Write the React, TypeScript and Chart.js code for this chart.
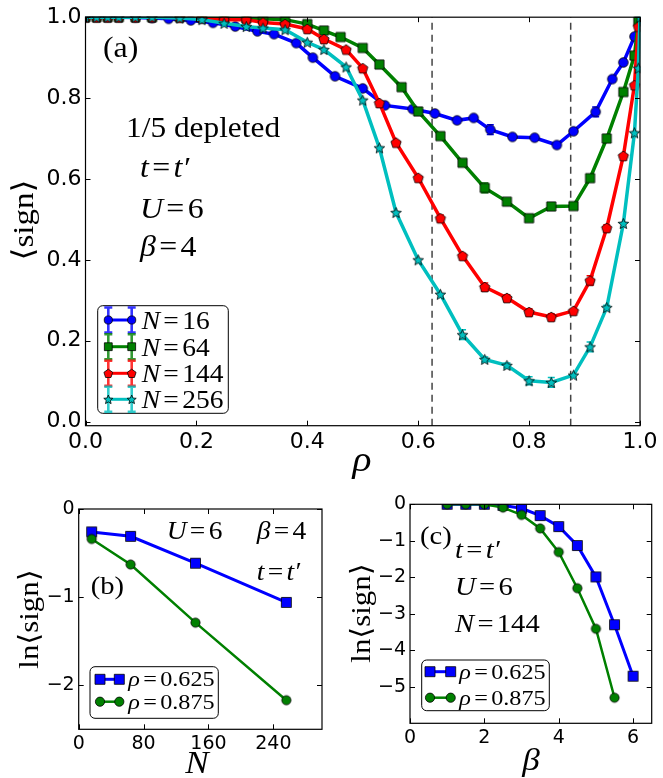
import React, { useEffect, useRef } from "react";
import { Chart, registerables } from "chart.js";

Chart.register(...registerables);

// ---- panel (a): <sign> vs rho, 1/5 depleted, t=t', U=6, beta=4
const rho16 = [0, 0.02, 0.04, 0.06, 0.09, 0.12, 0.15, 0.19, 0.23, 0.27, 0.31, 0.34, 0.38, 0.41, 0.45, 0.5, 0.54, 0.59, 0.63, 0.67, 0.7, 0.73, 0.77, 0.81, 0.85, 0.88, 0.92, 0.95, 0.97, 0.99, 1.0];
const sign16 = [1, 1, 1, 1, 0.999, 0.998, 0.996, 0.992, 0.986, 0.977, 0.965, 0.958, 0.936, 0.9, 0.854, 0.824, 0.782, 0.773, 0.762, 0.745, 0.751, 0.722, 0.704, 0.702, 0.684, 0.718, 0.766, 0.847, 0.888, 0.952, 0.99];
const err16 = [0, 0, 0, 0, 0, 0, 0, 0, 0, 0, 0, 0, 0, 0, 0, 0, 0, 0.006, 0, 0.006, 0, 0.012, 0.005, 0, 0.006, 0, 0.012, 0.006, 0, 0, 0];

const rho64 = [0, 0.02, 0.04, 0.06, 0.09, 0.12, 0.17, 0.21, 0.25, 0.29, 0.32, 0.36, 0.4, 0.43, 0.46, 0.5, 0.53, 0.57, 0.6, 0.64, 0.68, 0.72, 0.76, 0.8, 0.84, 0.88, 0.91, 0.94, 0.97, 0.99, 0.997];
const sign64 = [1, 1, 1, 1, 1, 1, 1, 0.999, 0.998, 0.997, 0.996, 0.994, 0.983, 0.967, 0.951, 0.924, 0.883, 0.827, 0.767, 0.706, 0.64, 0.578, 0.544, 0.503, 0.532, 0.533, 0.602, 0.7, 0.815, 0.905, 0.99];
const err64 = [0, 0, 0, 0, 0, 0, 0, 0, 0, 0, 0, 0, 0, 0, 0, 0, 0, 0, 0, 0, 0.005, 0.012, 0.006, 0, 0, 0.006, 0, 0, 0, 0, 0];

const rho144 = [0, 0.02, 0.04, 0.06, 0.09, 0.12, 0.17, 0.21, 0.25, 0.29, 0.32, 0.36, 0.4, 0.43, 0.47, 0.5, 0.53, 0.56, 0.6, 0.64, 0.68, 0.72, 0.76, 0.8, 0.84, 0.88, 0.91, 0.94, 0.97, 0.99, 0.997];
const sign144 = [1, 1, 1, 1, 1, 1, 0.999, 0.997, 0.994, 0.994, 0.987, 0.983, 0.971, 0.946, 0.92, 0.874, 0.788, 0.69, 0.603, 0.503, 0.41, 0.333, 0.306, 0.271, 0.259, 0.274, 0.349, 0.479, 0.657, 0.832, 0.977];
const err144 = [0, 0, 0, 0, 0, 0, 0, 0, 0, 0, 0, 0, 0, 0, 0, 0, 0, 0, 0, 0.008, 0.006, 0.01, 0.008, 0.008, 0.008, 0, 0.012, 0.008, 0, 0, 0];

const rho256 = [0, 0.02, 0.04, 0.06, 0.09, 0.12, 0.17, 0.21, 0.25, 0.29, 0.32, 0.36, 0.4, 0.43, 0.47, 0.5, 0.53, 0.56, 0.6, 0.64, 0.68, 0.72, 0.76, 0.8, 0.84, 0.88, 0.91, 0.94, 0.97, 0.99, 0.997, 1.0];
const sign256 = [1, 1, 1, 1, 1, 1, 0.998, 0.994, 0.985, 0.977, 0.973, 0.969, 0.938, 0.92, 0.877, 0.795, 0.677, 0.517, 0.4, 0.315, 0.215, 0.154, 0.139, 0.101, 0.097, 0.115, 0.185, 0.282, 0.49, 0.714, 0.874, 1.0];
const err256 = [0, 0, 0, 0, 0, 0, 0, 0, 0, 0, 0, 0, 0, 0, 0, 0, 0, 0, 0, 0, 0.012, 0.006, 0.006, 0.01, 0.012, 0, 0.012, 0.006, 0, 0, 0, 0];

const rhoTicks = [0, 0.2, 0.4, 0.6, 0.8, 1.0];
const signTicks = [0, 0.2, 0.4, 0.6, 0.8, 1.0];
const markedRho = [0.625, 0.875];

// ---- panel (b): ln<sign> vs N at beta=4
const sizesN = [16, 64, 144, 256];
const lnSign625N = [-0.26, -0.31, -0.615, -1.06];
const lnSign875N = [-0.34, -0.63, -1.29, -2.17];
const nTicks = [0, 80, 160, 240];
const lnTicksB = [-2, -1, 0];

// ---- panel (c): ln<sign> vs beta at N=144
const beta625 = [1, 1.5, 2, 2.5, 3, 3.5, 4, 4.5, 5, 5.5, 6];
const lnSign625B = [0, 0, 0, -0.03, -0.11, -0.31, -0.61, -1.13, -1.99, -3.3, -4.71];
const beta875 = [1, 1.5, 2, 2.5, 3, 3.5, 4, 4.5, 5, 5.5];
const lnSign875B = [0, 0, 0, -0.09, -0.29, -0.66, -1.31, -2.3, -3.41, -5.3];
const betaTicks = [0, 2, 4, 6];
const lnTicksC = [-5, -4, -3, -2, -1, 0];

const BLUE = "#0000ff";
const GREEN = "#008000";
const RED = "#ff0000";
const CYAN = "#00bfbf";
const SERIF = "'Liberation Serif', 'DejaVu Serif', serif";
const SANS = "'DejaVu Sans', 'Liberation Sans', sans-serif";
const STRETCH = 1.1;

type Tok = { t: string; it?: boolean; g?: number };
type Kind = "circle" | "square" | "pentagon" | "star";

const eq = (lhs: string, rhs: string, rhsItalic = false): Tok[] => [
  { t: lhs, it: true },
  { t: "", g: 3 },
  { t: "=" },
  { t: "", g: 3 },
  { t: rhs, it: rhsItalic },
];

function drawRich(ctx: CanvasRenderingContext2D, toks: Tok[], x: number, y: number, size: number, align = "left") {
  ctx.save();
  ctx.translate(x, y);
  ctx.scale(STRETCH, 1);
  ctx.textBaseline = "alphabetic";
  ctx.textAlign = "left";
  ctx.fillStyle = "#000";
  const fonts = toks.map((k) => `${k.it ? "italic " : ""}${size}px ${SERIF}`);
  const widths = toks.map((k, i) => {
    ctx.font = fonts[i];
    return ctx.measureText(k.t).width + (k.g || 0);
  });
  const total = widths.reduce((a, b) => a + b, 0);
  let cx = align === "center" ? -total / 2 : 0;
  toks.forEach((k, i) => {
    ctx.font = fonts[i];
    ctx.fillText(k.t, cx, 0);
    cx += widths[i];
  });
  ctx.restore();
}

function drawRotated(ctx: CanvasRenderingContext2D, toks: Tok[], x: number, y: number, size: number) {
  ctx.save();
  ctx.translate(x, y);
  ctx.rotate(-Math.PI / 2);
  drawRich(ctx, toks, 0, 0, size, "center");
  ctx.restore();
}

function markerPath(ctx: CanvasRenderingContext2D, kind: Kind, cx: number, cy: number, r: number) {
  ctx.beginPath();
  if (kind === "circle") {
    ctx.arc(cx, cy, r, 0, Math.PI * 2);
  } else if (kind === "square") {
    ctx.rect(cx - r, cy - r, 2 * r, 2 * r);
  } else if (kind === "pentagon") {
    for (let i = 0; i < 5; i++) {
      const a = -Math.PI / 2 + (i * 2 * Math.PI) / 5;
      const px = cx + r * Math.cos(a);
      const py = cy + r * Math.sin(a) + r * 0.1;
      if (i === 0) ctx.moveTo(px, py);
      else ctx.lineTo(px, py);
    }
  } else {
    for (let i = 0; i < 10; i++) {
      const a = -Math.PI / 2 + (i * Math.PI) / 5;
      const rr = i % 2 ? r * 0.45 : r;
      const px = cx + rr * Math.cos(a);
      const py = cy + rr * Math.sin(a) + r * 0.1;
      if (i === 0) ctx.moveTo(px, py);
      else ctx.lineTo(px, py);
    }
  }
  ctx.closePath();
}

function drawMarker(ctx: CanvasRenderingContext2D, kind: Kind, cx: number, cy: number, r: number, fill: string) {
  markerPath(ctx, kind, cx, cy, r);
  ctx.fillStyle = fill;
  ctx.fill();
  ctx.lineWidth = 0.8;
  ctx.strokeStyle = "#000";
  ctx.stroke();
}

function markerImage(kind: Kind, r: number, fill: string) {
  const c = document.createElement("canvas");
  const s = Math.ceil(r * 2 + 3);
  c.width = s;
  c.height = s;
  drawMarker(c.getContext("2d")!, kind, s / 2, s / 2, r, fill);
  return c;
}

type Area = { left: number; top: number; right: number; bottom: number };

function panelPlugin(xTicks: number[], yTicks: number[], extras: (ctx: CanvasRenderingContext2D, chart: any) => void, before?: (ctx: CanvasRenderingContext2D, chart: any) => void) {
  return {
    id: "panel",
    beforeDatasetsDraw(chart: any) {
      if (!before) return;
      const ctx = chart.ctx;
      ctx.save();
      before(ctx, chart);
      ctx.restore();
    },
    beforeDatasetDraw(chart: any, args: any) {
      const ds = chart.data.datasets[args.index];
      if (!ds.errs) return;
      const ctx = chart.ctx;
      const xs = chart.scales.x;
      const ys = chart.scales.y;
      ctx.save();
      ctx.strokeStyle = ds.borderColor;
      ctx.lineWidth = 1.5;
      ds.data.forEach((p: any, i: number) => {
        const e = ds.errs[i];
        if (!e) return;
        const px = xs.getPixelForValue(p.x);
        const y1 = ys.getPixelForValue(p.y - e);
        const y2 = ys.getPixelForValue(p.y + e);
        ctx.beginPath();
        ctx.moveTo(px, y1);
        ctx.lineTo(px, y2);
        ctx.moveTo(px - 3.5, y1);
        ctx.lineTo(px + 3.5, y1);
        ctx.moveTo(px - 3.5, y2);
        ctx.lineTo(px + 3.5, y2);
        ctx.stroke();
      });
      ctx.restore();
    },
    afterDatasetsDraw(chart: any) {
      const ctx = chart.ctx;
      const { left, top, right, bottom } = chart.chartArea;
      const xs = chart.scales.x;
      const ys = chart.scales.y;
      ctx.save();
      ctx.strokeStyle = "#000";
      ctx.lineWidth = 1;
      ctx.beginPath();
      xTicks.forEach((v) => {
        const px = Math.round(xs.getPixelForValue(v)) + 0.5;
        ctx.moveTo(px, bottom);
        ctx.lineTo(px, bottom - 5);
        ctx.moveTo(px, top);
        ctx.lineTo(px, top + 5);
      });
      yTicks.forEach((v) => {
        const py = Math.round(ys.getPixelForValue(v)) + 0.5;
        ctx.moveTo(left, py);
        ctx.lineTo(left + 5, py);
        ctx.moveTo(right, py);
        ctx.lineTo(right - 5, py);
      });
      ctx.stroke();
      ctx.lineWidth = 1.2;
      ctx.strokeRect(left, top, right - left, bottom - top);
      ctx.restore();
    },
    afterDraw(chart: any) {
      const ctx = chart.ctx;
      ctx.save();
      extras(ctx, chart);
      ctx.restore();
    },
  };
}

function legendBox(ctx: CanvasRenderingContext2D, x: number, y: number, w: number, h: number) {
  ctx.beginPath();
  ctx.roundRect(x, y, w, h, 5);
  ctx.fillStyle = "#fff";
  ctx.fill();
  ctx.lineWidth = 1;
  ctx.strokeStyle = "#000";
  ctx.stroke();
}

const fmtNum = (v: number) => (v < 0 ? "\u2212" + Math.abs(v) : String(v));

function makeChart(
  canvas: HTMLCanvasElement,
  w: number,
  h: number,
  area: Area,
  datasets: any[],
  x: { min: number; max: number; ticks: number[]; fmt: (v: number) => string },
  y: { min: number; max: number; ticks: number[]; fmt: (v: number) => string; pad: number },
  tickSize: number,
  plugin: any
) {
  return new Chart(canvas, {
    type: "scatter",
    data: { datasets },
    options: {
      animation: false,
      responsive: false,
      events: [],
      layout: { padding: { left: 0, top: area.top, right: w - area.right, bottom: 0 } },
      plugins: { legend: { display: false }, tooltip: { enabled: false } },
      scales: {
        x: {
          type: "linear",
          min: x.min,
          max: x.max,
          grid: { display: false, drawTicks: false },
          border: { display: false },
          afterBuildTicks: (s: any) => {
            s.ticks = x.ticks.map((v) => ({ value: v }));
          },
          afterFit: (s: any) => {
            s.height = h - area.bottom;
          },
          ticks: {
            color: "#000",
            padding: 3,
            maxRotation: 0,
            font: { family: SANS, size: tickSize },
            callback: (v: any) => x.fmt(Number(v)),
          },
        },
        y: {
          type: "linear",
          min: y.min,
          max: y.max,
          grid: { display: false, drawTicks: false },
          border: { display: false },
          afterBuildTicks: (s: any) => {
            s.ticks = y.ticks.map((v) => ({ value: v }));
          },
          afterFit: (s: any) => {
            s.width = area.left;
          },
          ticks: {
            color: "#000",
            padding: y.pad,
            font: { family: SANS, size: tickSize },
            callback: (v: any) => y.fmt(Number(v)),
          },
        },
      },
    } as any,
    plugins: [plugin],
  });
}

function buildA(canvas: HTMLCanvasElement) {
  const series = [
    { n: "16", rho: rho16, sign: sign16, err: err16, color: BLUE, kind: "circle" as Kind, r: 4.8 },
    { n: "64", rho: rho64, sign: sign64, err: err64, color: GREEN, kind: "square" as Kind, r: 4.6 },
    { n: "144", rho: rho144, sign: sign144, err: err144, color: RED, kind: "pentagon" as Kind, r: 5.4 },
    { n: "256", rho: rho256, sign: sign256, err: err256, color: CYAN, kind: "star" as Kind, r: 5.6 },
  ];
  const datasets = series.map((s, i) => ({
    data: s.rho.map((v, j) => ({ x: v, y: s.sign[j] })),
    errs: s.err,
    showLine: true,
    borderColor: s.color,
    backgroundColor: s.color,
    borderWidth: 3.5,
    pointStyle: markerImage(s.kind, s.r, s.color),
    pointRadius: 5,
    order: 3 - i,
    clip: 0.5,
  }));
  const plugin = panelPlugin(
    rhoTicks,
    signTicks,
    (ctx) => {
      drawRich(ctx, [{ t: "(a)" }], 103, 57, 29);
      drawRich(ctx, [{ t: "1/5 depleted" }], 126, 137, 28.5);
      drawRich(ctx, eq("t", "t\u2032", true), 140, 177, 29);
      drawRich(ctx, eq("U", "6"), 140, 218, 29);
      drawRich(ctx, eq("\u03b2", "4"), 140, 256, 29);
      drawRich(ctx, [{ t: "\u03c1", it: true }], 362, 471, 36, "center");
      drawRotated(ctx, [{ t: "\u27e8sign\u27e9" }], 33, 220, 30);
      // legend
      legendBox(ctx, 97.7, 305.7, 130.6, 107.6);
      const rows = [320, 346.7, 373.3, 399.3];
      series.forEach((s, i) => {
        const ry = rows[i];
        ctx.strokeStyle = s.color;
        ctx.globalAlpha = 0.8;
        ctx.lineWidth = 2.6;
        ctx.beginPath();
        [108.3, 131.7].forEach((mx) => {
          ctx.moveTo(mx, ry - 12.5);
          ctx.lineTo(mx, ry + 12.5);
          ctx.moveTo(mx - 4, ry - 12.5);
          ctx.lineTo(mx + 4, ry - 12.5);
          ctx.moveTo(mx - 4, ry + 12.5);
          ctx.lineTo(mx + 4, ry + 12.5);
        });
        ctx.stroke();
        ctx.globalAlpha = 1;
      });
      series.forEach((s, i) => {
        const ry = rows[i];
        ctx.strokeStyle = s.color;
        ctx.lineWidth = 3;
        ctx.beginPath();
        ctx.moveTo(108.3, ry);
        ctx.lineTo(131.7, ry);
        ctx.stroke();
        drawMarker(ctx, s.kind, 108.3, ry, s.r * 0.85, s.color);
        drawMarker(ctx, s.kind, 131.7, ry, s.r * 0.85, s.color);
        drawRich(ctx, eq("N", s.n), 141.7, ry + 9, 25);
      });
    },
    (ctx, chart) => {
      const xs = chart.scales.x;
      const { top, bottom } = chart.chartArea;
      ctx.strokeStyle = "#444";
      ctx.lineWidth = 1.5;
      ctx.setLineDash([7, 5]);
      markedRho.forEach((v) => {
        const px = xs.getPixelForValue(v);
        ctx.beginPath();
        ctx.moveTo(px, bottom);
        ctx.lineTo(px, top);
        ctx.stroke();
      });
    }
  );
  return makeChart(
    canvas,
    663,
    490,
    { left: 85.5, top: 15.7, right: 640, bottom: 425.7 },
    datasets,
    { min: 0, max: 1, ticks: rhoTicks, fmt: (v) => v.toFixed(1) },
    { min: -0.01, max: 1, ticks: signTicks, fmt: (v) => v.toFixed(1), pad: 4 },
    22,
    plugin
  );
}

function buildSmall(
  canvas: HTMLCanvasElement,
  w: number,
  area: Area,
  xs625: number[],
  ys625: number[],
  xs875: number[],
  ys875: number[],
  x: { min: number; max: number; ticks: number[] },
  y: { min: number; max: number; ticks: number[] },
  legend: { x: number; y: number; w: number; h: number; rows: number[]; m1: number; m2: number; tx: number },
  labels: (ctx: CanvasRenderingContext2D) => void
) {
  const series = [
    { rho: "0.625", xs: xs625, ys: ys625, color: BLUE, kind: "square" as Kind, r: 5, lw: 3 },
    { rho: "0.875", xs: xs875, ys: ys875, color: GREEN, kind: "circle" as Kind, r: 4.6, lw: 2.5 },
  ];
  const datasets = series.map((s, i) => ({
    data: s.xs.map((v, j) => ({ x: v, y: s.ys[j] })),
    showLine: true,
    borderColor: s.color,
    backgroundColor: s.color,
    borderWidth: s.lw,
    pointStyle: markerImage(s.kind, s.r, s.color),
    pointRadius: 5,
    order: 1 - i,
  }));
  const plugin = panelPlugin(x.ticks, y.ticks, (ctx) => {
    labels(ctx);
    legendBox(ctx, legend.x, legend.y, legend.w, legend.h);
    series.forEach((s, i) => {
      const ry = legend.rows[i];
      ctx.strokeStyle = s.color;
      ctx.lineWidth = s.lw;
      ctx.beginPath();
      ctx.moveTo(legend.m1, ry);
      ctx.lineTo(legend.m2, ry);
      ctx.stroke();
      drawMarker(ctx, s.kind, legend.m1, ry, s.r, s.color);
      drawMarker(ctx, s.kind, legend.m2, ry, s.r, s.color);
      drawRich(ctx, eq("\u03c1", s.rho), legend.tx, ry + 7, 22);
    });
  });
  return makeChart(
    canvas,
    w,
    308,
    area,
    datasets,
    { ...x, fmt: fmtNum },
    { ...y, fmt: fmtNum, pad: 4 },
    19,
    plugin
  );
}

export default function App() {
  const aRef = useRef<HTMLCanvasElement>(null);
  const bRef = useRef<HTMLCanvasElement>(null);
  const cRef = useRef<HTMLCanvasElement>(null);

  useEffect(() => {
    if (!aRef.current || !bRef.current || !cRef.current) return;
    const charts = [
      buildA(aRef.current),
      buildSmall(
        bRef.current,
        330,
        { left: 78.7, top: 39, right: 322.5, bottom: 259.3 },
        sizesN,
        lnSign625N,
        sizesN,
        lnSign875N,
        { min: 0, max: 300, ticks: nTicks },
        { min: -2.5, max: 0, ticks: lnTicksB },
        { x: 90, y: 196.7, w: 128.3, h: 51.6, rows: [209.3, 231.7], m1: 100, m2: 119.3, tx: 128.3 },
        (ctx) => {
          drawRich(ctx, eq("U", "6"), 166.7, 69, 25);
          drawRich(ctx, eq("\u03b2", "4"), 256.7, 69, 25);
          drawRich(ctx, eq("t", "t\u2032", true), 256.7, 110, 25);
          drawRich(ctx, [{ t: "(b)" }], 90.7, 124, 26);
          drawRich(ctx, [{ t: "N", it: true }], 197, 303, 32, "center");
          drawRotated(ctx, [{ t: "ln\u27e8sign\u27e9" }], 38, 149, 28);
        }
      ),
      buildSmall(
        cRef.current,
        333,
        { left: 80, top: 34.3, right: 321.7, bottom: 253.3 },
        beta625,
        lnSign625B,
        beta875,
        lnSign875B,
        { min: 0, max: 6.5, ticks: betaTicks },
        { min: -6, max: 0, ticks: lnTicksC },
        { x: 91.7, y: 190, w: 127.6, h: 50.7, rows: [201.7, 227.7], m1: 100, m2: 120.7, tx: 129.3 },
        (ctx) => {
          drawRich(ctx, [{ t: "(c)" }], 90, 74, 26);
          drawRich(ctx, eq("t", "t\u2032", true), 125, 88, 26);
          drawRich(ctx, eq("U", "6"), 125, 125, 26);
          drawRich(ctx, eq("N", "144"), 125, 162, 26);
          drawRich(ctx, [{ t: "\u03b2", it: true }], 201, 300, 32, "center");
          drawRotated(ctx, [{ t: "ln\u27e8sign\u27e9" }], 40, 143, 28);
        }
      ),
    ];
    return () => charts.forEach((c) => c.destroy());
  }, []);

  return (
    <div style={{ position: "absolute", left: 0, top: 0, width: 663, height: 778, background: "#fff" }}>
      <canvas ref={aRef} width={663} height={490} style={{ position: "absolute", left: 0, top: 0 }} />
      <canvas ref={bRef} width={330} height={308} style={{ position: "absolute", left: 0, top: 470 }} />
      <canvas ref={cRef} width={333} height={308} style={{ position: "absolute", left: 330, top: 470 }} />
    </div>
  );
}
